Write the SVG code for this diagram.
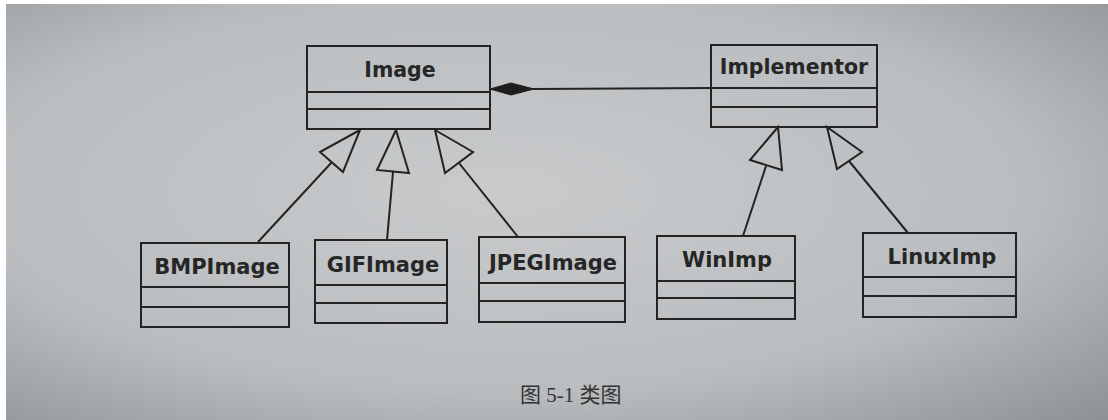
<svg xmlns="http://www.w3.org/2000/svg" width="1108" height="420" viewBox="0 0 1108 420">
  <defs>
    <radialGradient id="bg" cx="0.45" cy="0.45" r="0.8">
      <stop offset="0" stop-color="#c8cacc"/>
      <stop offset="0.6" stop-color="#babdbf"/>
      <stop offset="1" stop-color="#8a8e91"/>
    </radialGradient>
    <style>
      .box { fill: none; stroke: #232323; stroke-width: 2; }
      .div { stroke: #232323; stroke-width: 2; }
      .name { font-family: "DejaVu Sans", Verdana, sans-serif; font-weight: bold; font-size: 20.5px; fill: #262626; text-anchor: middle; }
      .sub { font-size: 21px; }
      .edge { stroke: #232323; stroke-width: 2; fill: none; }
      .tri { stroke: #232323; stroke-width: 2; fill: none; stroke-linejoin: miter; }
      .cap { font-family: "Liberation Serif", "Noto Sans CJK SC", serif; font-size: 21px; fill: #333; }
    </style>
  </defs>
  <rect x="0" y="0" width="1108" height="420" fill="#ffffff"/>
  <rect x="6" y="4" width="1102" height="416" fill="url(#bg)"/>

  <g id="connectors">
    <line class="edge" x1="533" y1="89" x2="711" y2="88"/>
    <polygon points="490,89 511,83 534,89 511,95" fill="#1e1e1e" stroke="#1e1e1e" stroke-width="1"/>

    <line class="edge" x1="258" y1="242" x2="332" y2="162"/>
    <polygon class="tri" points="360,130 320,152 343,172"/>

    <line class="edge" x1="387" y1="240" x2="393" y2="172"/>
    <polygon class="tri" points="396,130 377,170 409,173"/>

    <line class="edge" x1="518" y1="237" x2="459" y2="163"/>
    <polygon class="tri" points="435,130 473,152 445,173"/>

    <line class="edge" x1="743" y1="236" x2="766" y2="166"/>
    <polygon class="tri" points="778,127 750,160 782,170"/>

    <line class="edge" x1="908" y1="233" x2="849" y2="161"/>
    <polygon class="tri" points="827,127 862,152 837,169"/>
  </g>

  <g id="Image">
    <rect class="box" x="307" y="46" width="183" height="83"/>
    <line class="div" x1="307" y1="92" x2="490" y2="92"/>
    <line class="div" x1="307" y1="109" x2="490" y2="109"/>
    <text class="name" x="400" y="77">Image</text>
  </g>

  <g id="Implementor">
    <rect class="box" x="711" y="45" width="166" height="82"/>
    <line class="div" x1="711" y1="88" x2="877" y2="88"/>
    <line class="div" x1="711" y1="107" x2="877" y2="107"/>
    <text class="name" x="794" y="74">Implementor</text>
  </g>

  <g id="BMPImage">
    <rect class="box" x="141" y="243" width="148" height="84"/>
    <line class="div" x1="141" y1="287" x2="289" y2="287"/>
    <line class="div" x1="141" y1="307" x2="289" y2="307"/>
    <text class="name sub" x="217" y="274">BMPImage</text>
  </g>

  <g id="GIFImage">
    <rect class="box" x="315" y="240" width="132" height="83"/>
    <line class="div" x1="315" y1="285" x2="447" y2="285"/>
    <line class="div" x1="315" y1="303" x2="447" y2="303"/>
    <text class="name sub" x="383" y="272">GIFImage</text>
  </g>

  <g id="JPEGImage">
    <rect class="box" x="479" y="237" width="146" height="85"/>
    <line class="div" x1="479" y1="283" x2="625" y2="283"/>
    <line class="div" x1="479" y1="301" x2="625" y2="301"/>
    <text class="name sub" x="553" y="270">JPEGImage</text>
  </g>

  <g id="WinImp">
    <rect class="box" x="657" y="236" width="138" height="83"/>
    <line class="div" x1="657" y1="281" x2="795" y2="281"/>
    <line class="div" x1="657" y1="298" x2="795" y2="298"/>
    <text class="name sub" x="727" y="267">WinImp</text>
  </g>

  <g id="LinuxImp">
    <rect class="box" x="863" y="233" width="153" height="84"/>
    <line class="div" x1="863" y1="277" x2="1016" y2="277"/>
    <line class="div" x1="863" y1="296" x2="1016" y2="296"/>
    <text class="name sub" x="942" y="264">LinuxImp</text>
  </g>

  <text class="cap" x="520" y="402">图 5-1 类图</text>
</svg>
